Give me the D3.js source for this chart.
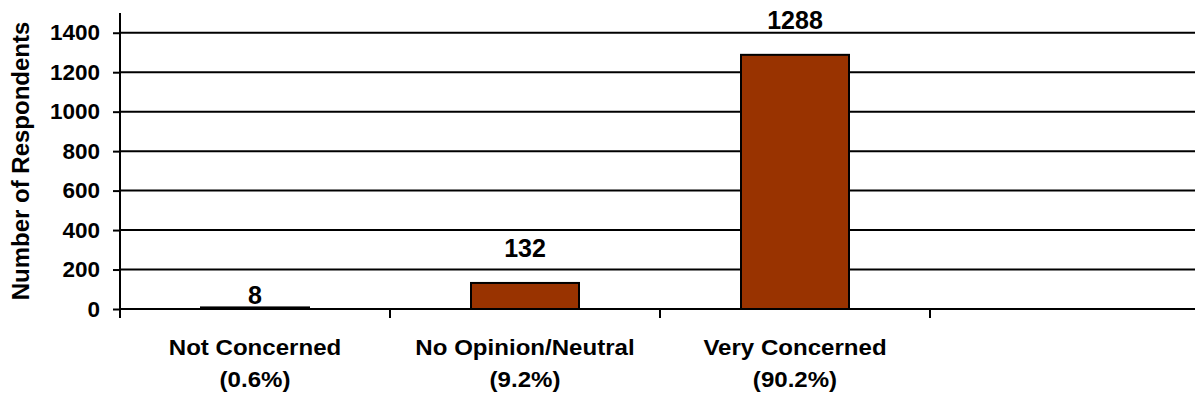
<!DOCTYPE html>
<html>
<head>
<meta charset="utf-8">
<script src="https://cdn.jsdelivr.net/npm/d3@7"></script>
<style>
  body { margin: 0; background: #fff; }
  text { font-family: "Liberation Sans", Arial, Helvetica, sans-serif; font-weight: bold; fill: #000; }
</style>
</head>
<body>
<svg id="chart" width="1195" height="402"></svg>
<script>
// Survey answers: how concerned respondents are
const categories = ["Not Concerned", "No Opinion/Neutral", "Very Concerned", ""];
const shares = ["(0.6%)", "(9.2%)", "(90.2%)", ""];
const respondents = [8, 132, 1288, null];
const yTicks = [0, 200, 400, 600, 800, 1000, 1200, 1400];
const yMax = 1500;

const svg = d3.select("#chart");
const plotLeft = 120, plotRight = 1200, plotTop = 13, plotBottom = 309;

const x = d3.scaleBand()
  .domain(categories.map((c, i) => i))
  .range([plotLeft, plotRight])
  .padding(0);

const y = d3.scaleLinear().domain([0, yMax]).range([plotBottom, plotTop]);

// horizontal gridlines
svg.append("g")
  .selectAll("line")
  .data(yTicks)
  .join("line")
  .attr("x1", plotLeft).attr("x2", plotRight)
  .attr("y1", d => y(d)).attr("y2", d => y(d))
  .attr("stroke", "#000").attr("stroke-width", 2);

// y axis
const yAxis = svg.append("g")
  .attr("transform", `translate(${plotLeft},0)`)
  .call(d3.axisLeft(y).tickValues(yTicks).tickFormat(d3.format("d")).tickSize(7).tickPadding(13));
yAxis.select(".domain").remove();
yAxis.selectAll(".tick line").attr("stroke", "#000").attr("stroke-width", 2);
yAxis.selectAll(".tick text")
  .style("font-size", "22.5px")
  .style("font-family", "\"Liberation Sans\", Arial, sans-serif")
  .style("font-weight", "bold");
svg.append("line")
  .attr("x1", plotLeft).attr("x2", plotLeft)
  .attr("y1", plotTop).attr("y2", plotBottom + 9)
  .attr("stroke", "#000").attr("stroke-width", 2);

// x axis baseline and category boundary ticks
svg.append("line")
  .attr("x1", plotLeft).attr("x2", plotRight)
  .attr("y1", y(0)).attr("y2", y(0))
  .attr("stroke", "#000").attr("stroke-width", 2);
const bounds = x.domain().map(i => x(i)).concat([plotRight]);
svg.append("g")
  .selectAll("line")
  .data(bounds)
  .join("line")
  .attr("x1", d => d).attr("x2", d => d)
  .attr("y1", y(0)).attr("y2", y(0) + 9)
  .attr("stroke", "#000").attr("stroke-width", 2);

// bars
const barW = x.bandwidth() * 0.4;
const cx = i => x(i) + x.bandwidth() / 2;
const rows = respondents.map((v, i) => ({ i, v })).filter(d => d.v != null);

svg.append("g")
  .selectAll("rect")
  .data(rows)
  .join("rect")
  .attr("x", d => cx(d.i) - barW / 2)
  .attr("width", barW)
  .attr("y", d => y(d.v))
  .attr("height", d => y(0) - y(d.v))
  .attr("fill", "#993300")
  .attr("stroke", "#000")
  .attr("stroke-width", 2);

// value labels above bars; a very short bar gets its label right on the baseline
const lift = d => (y(0) - y(d.v) < 10 ? 3 : 26);
svg.append("g")
  .selectAll("text")
  .data(rows)
  .join("text")
  .attr("x", d => cx(d.i))
  .attr("y", d => y(d.v) - lift(d))
  .attr("text-anchor", "middle")
  .style("font-size", "25px")
  .text(d => d.v);

// category labels, two lines each
const catG = svg.append("g");
categories.forEach((c, i) => {
  if (!c) return;
  catG.append("text")
    .attr("transform", `translate(${cx(i)},355) scale(1.12,1)`)
    .attr("text-anchor", "middle")
    .style("font-size", "21.5px")
    .text(c);
  catG.append("text")
    .attr("transform", `translate(${cx(i)},387) scale(1.12,1)`)
    .attr("text-anchor", "middle")
    .style("font-size", "21.5px")
    .text(shares[i]);
});

// y axis title
svg.append("text")
  .attr("transform", `translate(29,${(plotTop + plotBottom) / 2}) rotate(-90)`)
  .attr("text-anchor", "middle")
  .style("font-size", "24px")
  .text("Number of Respondents");
</script>
</body>
</html>
